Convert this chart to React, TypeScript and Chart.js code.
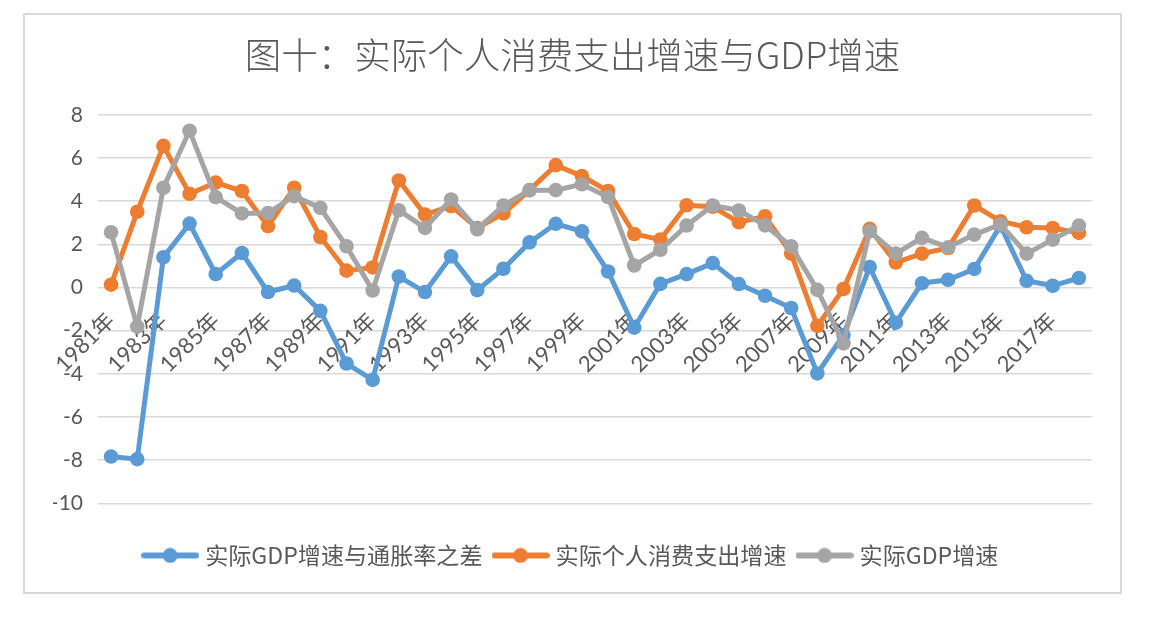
import React, { useEffect, useRef } from 'react';
import { Chart, registerables } from 'chart.js';

Chart.register(...registerables);

const titleText = '图十：实际个人消费支出增速与GDP增速';

const years = [
  '1981', '1982', '1983', '1984', '1985', '1986', '1987', '1988', '1989', '1990',
  '1991', '1992', '1993', '1994', '1995', '1996', '1997', '1998', '1999', '2000',
  '2001', '2002', '2003', '2004', '2005', '2006', '2007', '2008', '2009', '2010',
  '2011', '2012', '2013', '2014', '2015', '2016', '2017', '2018',
];
const categoryLabels = years.map((y) => y + '年');

const seriesNames = ['实际GDP增速与通胀率之差', '实际个人消费支出增速', '实际GDP增速'];
const seriesColors = ['#5B9BD5', '#ED7D31', '#A5A5A5'];

const gapValues = [
  -7.83, -7.95, 1.4, 2.96, 0.62, 1.6, -0.21, 0.09, -1.08, -3.52,
  -4.28, 0.51, -0.21, 1.44, -0.12, 0.87, 2.09, 2.95, 2.6, 0.74,
  -1.86, 0.17, 0.62, 1.13, 0.16, -0.38, -0.95, -3.98, -2.2, 0.95,
  -1.63, 0.2, 0.36, 0.86, 2.87, 0.31, 0.08, 0.44,
];
const consumptionValues = [
  0.13, 3.51, 6.56, 4.34, 4.86, 4.47, 2.84, 4.62, 2.34, 0.78,
  0.93, 4.96, 3.38, 3.77, 2.76, 3.43, 4.51, 5.67, 5.16, 4.47,
  2.48, 2.22, 3.81, 3.74, 3.02, 3.3, 1.57, -1.78, -0.07, 2.72,
  1.16, 1.57, 1.83, 3.8, 3.07, 2.79, 2.76, 2.53,
];
const gdpValues = [
  2.56, -1.81, 4.62, 7.26, 4.19, 3.43, 3.45, 4.23, 3.69, 1.91,
  -0.14, 3.58, 2.76, 4.08, 2.7, 3.8, 4.51, 4.51, 4.78, 4.19,
  1.02, 1.75, 2.87, 3.8, 3.57, 2.88, 1.91, -0.11, -2.59, 2.6,
  1.57, 2.3, 1.86, 2.45, 2.92, 1.57, 2.22, 2.87,
];

const yMin = -10;
const yMax = 8;
const yStep = 2;

const W = 1164;
const H = 623;
const TEXT = '#595959';
const GRID = '#d9d9d9';
const CJK = '"Noto Sans CJK SC", sans-serif';
const NUM = 'Lato, "Noto Sans CJK SC", sans-serif';

function makeIcon(color: string): HTMLCanvasElement {
  const c = document.createElement('canvas');
  c.width = 58;
  c.height = 16;
  const g = c.getContext('2d')!;
  g.strokeStyle = color;
  g.lineWidth = 6;
  g.lineCap = 'round';
  g.beginPath();
  g.moveTo(3, 8);
  g.lineTo(55, 8);
  g.stroke();
  g.fillStyle = color;
  g.beginPath();
  g.arc(29, 8, 7.5, 0, Math.PI * 2);
  g.fill();
  return c;
}

export default function App() {
  const ref = useRef<HTMLCanvasElement | null>(null);

  useEffect(() => {
    if (!ref.current) return;
    const icons = seriesColors.map(makeIcon);
    const seriesData = [gapValues, consumptionValues, gdpValues];
    const drawOrder = [2, 1, 0];
    const chart = new Chart(ref.current, {
      type: 'line',
      data: {
        labels: categoryLabels,
        datasets: seriesNames.map((name, i) => ({
          label: name,
          data: seriesData[i],
          borderColor: seriesColors[i],
          backgroundColor: seriesColors[i],
          pointBackgroundColor: seriesColors[i],
          pointBorderColor: seriesColors[i],
          pointBorderWidth: 0,
          pointRadius: 7.3,
          pointHoverRadius: 7.3,
          borderWidth: 5,
          tension: 0,
          fill: false,
          order: drawOrder[i],
        })),
      },
      options: {
        responsive: false,
        animation: false,
        devicePixelRatio: 1,
        layout: { padding: { left: 53, right: 72, top: 0, bottom: 46 } },
        plugins: {
          tooltip: { enabled: false },
          title: {
            display: true,
            text: titleText,
            color: TEXT,
            font: { family: CJK, size: 36.5, weight: '300' },
            padding: { top: 33, bottom: 38 },
          },
          legend: {
            display: true,
            position: 'bottom',
            title: { display: true, text: '', font: { size: 10 }, padding: { top: 14, bottom: 0 } },
            labels: {
              usePointStyle: true,
              pointStyleWidth: 47,
              padding: 14.5,
              color: TEXT,
              font: { family: CJK, size: 23.1 },
              generateLabels: () =>
                seriesNames.map((name, i) => ({
                  text: name,
                  fillStyle: seriesColors[i],
                  strokeStyle: seriesColors[i],
                  lineWidth: 0,
                  pointStyle: icons[i],
                  hidden: false,
                  datasetIndex: i,
                  fontColor: TEXT,
                })) as any,
            },
          },
        },
        scales: {
          x: {
            type: 'category',
            offset: true,
            position: { y: 0 } as any,
            grid: { display: false, drawTicks: false },
            border: { display: false },
            ticks: {
              autoSkip: false,
              maxRotation: 45,
              minRotation: 45,
              padding: 20,
              color: TEXT,
              font: { family: NUM, size: 22 },
              callback: (_v: any, i: number) => (i % 2 === 0 ? categoryLabels[i] : ''),
            },
          },
          y: {
            type: 'linear',
            min: yMin,
            max: yMax,
            afterFit: (s: any) => {
              s.width = 45;
            },
            grid: { color: GRID, lineWidth: 1.5, drawTicks: false },
            border: { display: false },
            ticks: {
              stepSize: yStep,
              padding: 15,
              color: TEXT,
              font: { family: NUM, size: 21 },
            },
          },
        },
      },
    });
    return () => chart.destroy();
  }, []);

  return (
    <div style={{ position: 'absolute', left: 0, top: 0, width: W, height: H, background: '#fff' }}>
      <div
        style={{
          position: 'absolute',
          left: 23,
          top: 13,
          width: 1099,
          height: 581,
          border: '2px solid ' + GRID,
          boxSizing: 'border-box',
        }}
      />
      <canvas
        ref={ref}
        width={W}
        height={H}
        style={{ position: 'absolute', left: 0, top: 0, width: W, height: H }}
      />
    </div>
  );
}
